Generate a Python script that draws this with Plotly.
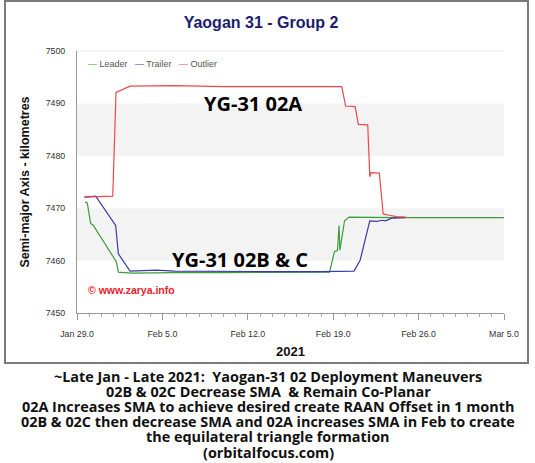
import plotly.graph_objects as go

# ---- data (days since Jan 29.0, 2021 ; semi-major axis km) ----
leader_days = [0.66, 0.84, 1.12, 1.34, 3.22, 3.39, 4.5, 6.0, 8.0, 12.0, 16.0, 20.7, 21.1, 21.35, 21.48, 21.55, 21.93, 22.3, 26.0, 35.0]
leader_sma = [7471.2, 7471.0, 7467.1, 7466.7, 7459.8, 7457.8, 7457.6, 7457.7, 7457.7, 7457.7, 7457.7, 7457.8, 7461.7, 7461.9, 7466.7, 7462.0, 7467.6, 7468.3, 7468.2, 7468.2]

trailer_days = [0.6, 1.0, 1.53, 3.17, 3.39, 4.35, 5.0, 6.5, 8.0, 12.0, 16.0, 20.0, 22.7, 23.2, 24.0, 24.6, 25.0, 25.3, 25.8, 26.9]
trailer_sma = [7472.1, 7472.2, 7472.3, 7466.7, 7461.3, 7458.0, 7458.1, 7458.2, 7458.0, 7457.9, 7457.9, 7457.9, 7458.0, 7460.0, 7467.6, 7467.5, 7467.7, 7467.6, 7468.1, 7468.2]

outlier_days = [0.6, 2.93, 3.2, 4.35, 8.0, 12.0, 16.0, 21.7, 22.02, 22.8, 23.06, 23.83, 24.0, 24.1, 24.78, 25.1, 25.5, 26.2, 27.0]
outlier_sma = [7472.1, 7472.3, 7492.1, 7493.3, 7493.4, 7493.2, 7493.2, 7493.2, 7489.5, 7489.4, 7486.0, 7485.9, 7476.0, 7476.8, 7476.7, 7468.9, 7468.7, 7468.4, 7468.3]

series_names = ["Leader", "Trailer", "Outlier"]
series_colors = ["#3c9c3c", "#3a3aa6", "#f04848"]

tick_days = [0, 7, 14, 21, 28, 35]
tick_labels = ["Jan 29.0", "Feb 5.0", "Feb 12.0", "Feb 19.0", "Feb 26.0", "Mar 5.0"]
y_ticks = [7450, 7460, 7470, 7480, 7490, 7500]
bands = [(7460, 7470), (7480, 7490)]

caption_lines = [
    "~Late Jan - Late 2021:  Yaogan-31 02 Deployment Maneuvers",
    "02B & 02C Decrease SMA  & Remain Co-Planar",
    "02A Increases SMA to achieve desired create RAAN Offset in 1 month",
    "02B & 02C then decrease SMA and 02A increases SMA in Feb to create",
    "the equilateral triangle formation",
    "(orbitalfocus.com)",
]

W, H = 535, 463
L, R, T, B = 77, 31, 51, 150
PW, PH = W - L - R, H - T - B

def px(xp):
    return (xp - L) / PW

def py(yp):
    return (H - B - yp) / PH

fig = go.Figure()
for xs, ys, nm, col in zip([leader_days, trailer_days, outlier_days],
                           [leader_sma, trailer_sma, outlier_sma],
                           series_names, series_colors):
    fig.add_trace(go.Scatter(x=xs, y=ys, mode="lines", name=nm, showlegend=False,
                             line=dict(color=col, width=1.2)))

shapes = []
for b0, b1 in bands:
    shapes.append(dict(type="rect", xref="paper", yref="y", x0=0, x1=1, y0=b0, y1=b1,
                       fillcolor="#f3f3f3", line=dict(width=0), layer="below"))
# outer frame
shapes.append(dict(type="rect", xref="paper", yref="paper", x0=px(5), x1=px(528),
                   y0=py(363), y1=py(1), line=dict(color="#7a7a7a", width=2),
                   fillcolor="rgba(0,0,0,0)"))
# faint top border of plot
shapes.append(dict(type="line", xref="paper", yref="paper", x0=0, x1=1, y0=1, y1=1,
                   line=dict(color="#eeeeee", width=1)))

legend_text = "   ".join(
    f"<span style='color:{c}'>—</span> {n}" for n, c in zip(series_names, series_colors))

annotations = [
    dict(text=legend_text, x=px(86), y=py(64), xref="paper", yref="paper", xanchor="left",
         yanchor="middle", showarrow=False,
         font=dict(family="Arial, Liberation Sans", size=9, color="#555555")),
    dict(text="YG-31 02A", x=14.4, y=7490, xref="x", yref="y", showarrow=False,
         font=dict(family="Open Sans", size=20, color="black", weight="bold")),
    dict(text="YG-31 02B & C", x=13.4, y=7460.3, xref="x", yref="y", showarrow=False,
         font=dict(family="Open Sans", size=20, color="black", weight="bold")),
    dict(text="© www.zarya.info", x=px(86), y=py(298), xref="paper", yref="paper",
         xanchor="left", showarrow=False,
         font=dict(family="Arial, Liberation Sans", size=10.5, color="#e8222a", weight="bold")),
]
for i, line in enumerate(caption_lines):
    annotations.append(dict(text=line, x=px(268), y=py(376 + i * 15.2), xref="paper", yref="paper",
                            showarrow=False, xanchor="center", yanchor="middle",
                            font=dict(family="Open Sans", size=14.4, color="#111111", weight="bold")))

fig.update_layout(
    width=W, height=H,
    margin=dict(l=L, r=R, t=T, b=B),
    paper_bgcolor="white", plot_bgcolor="white",
    title=dict(text="Yaogan 31 - Group 2", x=261 / W, xanchor="center", y=1 - 22 / H, yanchor="middle",
               font=dict(family="Arial, Liberation Sans", size=16, color="#1c1c6e", weight="bold")),
    showlegend=False,
    shapes=shapes,
    annotations=annotations,
    xaxis=dict(range=[0, 35], tickmode="array", tickvals=tick_days, ticktext=tick_labels,
               showgrid=False, zeroline=False, showline=True, linecolor="#999999", linewidth=1,
               ticks="outside", ticklen=6, tickcolor="#999999", ticklabelstandoff=6,
               tickfont=dict(family="Arial, Liberation Sans", size=8.8, color="#333333"),
               minor=dict(tickmode="linear", tick0=0, dtick=1, ticks="outside", ticklen=3,
                          tickcolor="#aaaaaa", showgrid=False),
               title=dict(text="2021", standoff=9,
                          font=dict(family="Arial, Liberation Sans", size=13, color="#111111",
                                    weight="bold"))),
    yaxis=dict(range=[7450, 7500], tickmode="array", tickvals=y_ticks,
               showgrid=False, zeroline=False, showline=True, linecolor="#999999", linewidth=1,
               ticks="", ticklabelstandoff=9,
               tickfont=dict(family="Arial, Liberation Sans", size=8.8, color="#333333"),
               title=dict(text="Semi-major Axis - kilometres", standoff=13,
                          font=dict(family="Arial, Liberation Sans", size=12.5, color="#111111",
                                    weight="bold"))),
)

fig.write_html("out.html", config={"displayModeBar": False},
               post_script="document.body.style.margin='0';document.body.style.overflow='hidden';")
